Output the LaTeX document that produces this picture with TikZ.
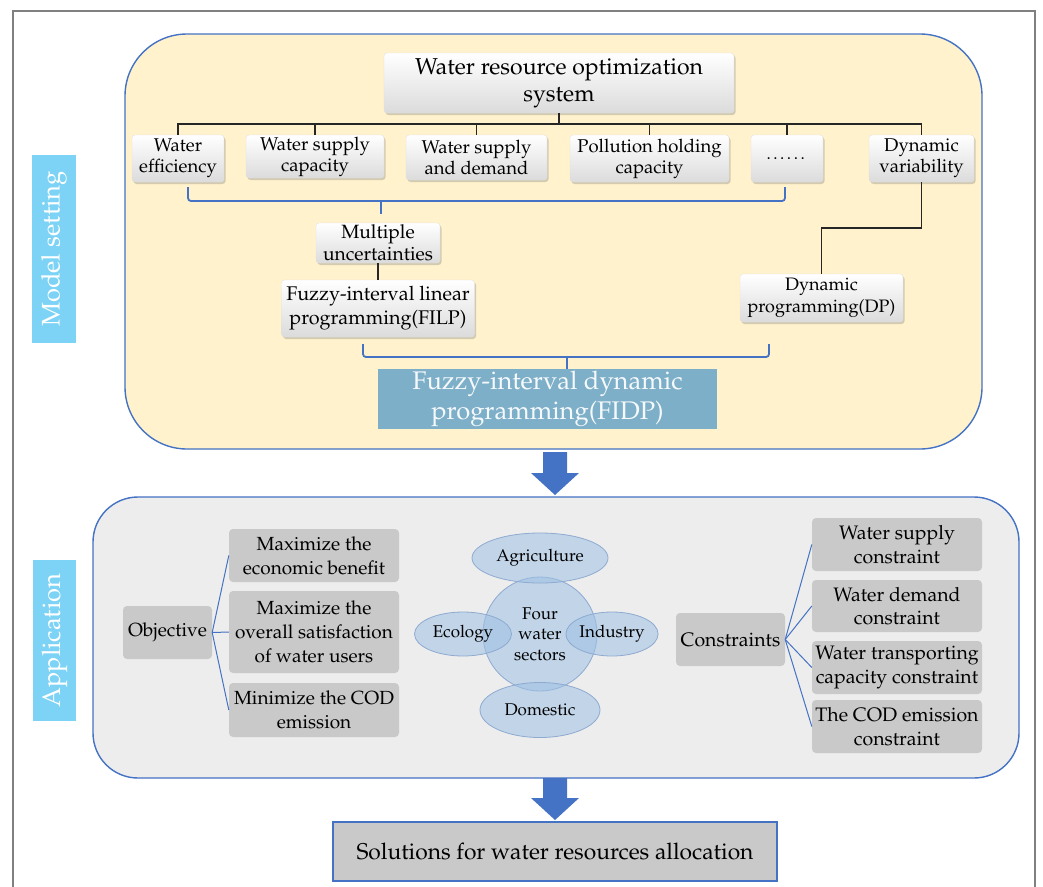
\documentclass[tikz,border=0pt]{standalone}
\usepackage[T1]{fontenc}
\usepackage{mathpazo}
\usetikzlibrary{shapes.geometric,shadows,calc}
\definecolor{cream}{HTML}{FFF2CC}
\definecolor{linkblue}{HTML}{4472C4}
\definecolor{fidpfill}{HTML}{7DAFC8}
\definecolor{sidecyan}{HTML}{7DD3F5}
\definecolor{panelgray}{HTML}{EDEDED}
\definecolor{boxgray}{HTML}{C9C9C9}
\definecolor{ellfill}{HTML}{9DC0E4}
\definecolor{ellborder}{HTML}{8EAAD0}
\newcommand{\myfs}[2]{\fontsize{#1}{#2}\selectfont}
\tikzset{
  wbox/.style={draw=black!12, line width=0.3pt, rounded corners=3pt, top color=white, bottom color=black!14,
    drop shadow={opacity=0.35, shadow xshift=1.5pt, shadow yshift=-2pt}, inner sep=0pt, align=center, text=black},
  gbox/.style={fill=boxgray, rounded corners=4pt, inner sep=0pt, align=center, text=black},
  tree/.style={draw=black!85, line width=1.6pt},
  brk/.style={draw=linkblue, line width=1.8pt, rounded corners=3pt},
  thinlink/.style={draw=linkblue, line width=1pt},
  sector/.style={ellipse, draw=ellborder, line width=0.8pt, fill=ellfill, fill opacity=0.55, text opacity=1, inner sep=0pt, align=center},
  sidelabel/.style={fill=sidecyan, text=white, rotate=90, inner sep=0pt},
  panel/.style={draw=linkblue, line width=1.4pt},
  bigarrow/.style={fill=linkblue},
}
\begin{document}
\begin{tikzpicture}[x=1pt,y=-1pt]
\useasboundingbox (0,0) rectangle (1043,886);
% outer frame
\draw[black!50, line width=1.3pt] (13,890) -- (13,11) -- (1035,11) -- (1035,890);

% side labels
\node[sidelabel, minimum width=188, minimum height=44, font=\myfs{25.5}{28}] (lblmodel) at (54,249) {Model setting};
\node[sidelabel, minimum width=161, minimum height=43, font=\myfs{25.5}{28}] (lblapp) at (54.5,640.5) {Application};

% panels
\node[panel, fill=cream, rounded corners=62pt, minimum width=857, minimum height=415, inner sep=0pt] (toppanel) at (553.5,241.5) {};
\node[panel, fill=panelgray, rounded corners=45pt, minimum width=926, minimum height=281, inner sep=0pt] (botpanel) at (556,637.5) {};

% arrows
\path[bigarrow] (543,452) -- (567,452) -- (567,473) -- (579,473) -- (555,495) -- (531,473) -- (543,473) -- cycle;
\path[bigarrow] (543,778) -- (567,778) -- (567,798) -- (579,798) -- (555,820) -- (531,798) -- (543,798) -- cycle;

% top section
\node[wbox, minimum width=350, minimum height=60, font=\myfs{23}{27}] (title) at (559,83) {Water resource optimization\\ system};
\node[wbox, minimum width=92, minimum height=47, font=\myfs{18.5}{21}] (we) at (178,158.5) {Water\\ efficiency};
\node[wbox, minimum width=138, minimum height=43, font=\myfs{18.5}{21}] (wsc) at (315,156.5) {Water supply\\ capacity};
\node[wbox, minimum width=141, minimum height=45, font=\myfs{18.5}{21}] (wsd) at (476.5,157.5) {Water supply\\ and demand};
\node[wbox, minimum width=159, minimum height=47, font=\myfs{18.5}{21}] (phc) at (649.5,158.5) {Pollution holding\\ capacity};
\node[wbox, minimum width=72, minimum height=47, font=\myfs{17}{21}] (dots) at (787,158.5) {\dots\dots};
\node[wbox, minimum width=105, minimum height=47, font=\myfs{18.5}{21}] (dv) at (921.5,158.5) {Dynamic\\ variability};

\draw[tree] (title.south) -- ++(0,11);
\draw[tree] (we.north) -- ++(0,-11) -| (dv.north);
\draw[tree] (wsc.north) -- ++(0,-11);
\draw[tree] (wsd.north) -- ++(0,-11);
\draw[tree] (phc.north) -- ++(0,-11);
\draw[tree] (dots.north) -- ++(0,-11);

\node[wbox, minimum width=124, minimum height=40, font=\myfs{19.2}{22}] (mu) at (378,243) {Multiple\\ uncertainties};
\node[wbox, minimum width=193, minimum height=57, font=\myfs{19.8}{24}] (filp) at (378,308.5) {Fuzzy-interval linear\\ programming(FILP)};
\node[wbox, minimum width=163, minimum height=48, font=\myfs{18}{21.5}] (dp) at (821.5,298) {Dynamic\\ programming(DP)};
\node[fill=fidpfill, text=white!93!fidpfill, inner sep=0pt, align=center, minimum width=339, minimum height=60, font=\myfs{25.5}{30}] (fidp) at (547.5,399) {Fuzzy-interval dynamic\\ programming(FIDP)};

\draw[tree] (mu.south) -- (filp.north);
\draw[tree] (dv.south) -- ++(0,46) -| (dp.north);

% brackets
\coordinate (b1l) at (188,187);
\coordinate (b1r) at (785,187);
\coordinate (b1m) at (381,201);
\draw[brk] (b1l) -- ++(0,14) -| (b1r);
\draw[brk] (b1m) -- ++(0,13);
\coordinate (b2l) at (363,344);
\coordinate (b2r) at (769,344);
\coordinate (b2m) at (567,357);
\draw[brk] (b2l) -- ++(0,13) -| (b2r);
\draw[brk] (b2m) -- (b2m |- fidp.north);

% application section
\node[gbox, minimum width=89, minimum height=53, font=\myfs{19}{24}] (obj) at (167.5,632.5) {Objective};
\node[gbox, minimum width=170, minimum height=53, font=\myfs{19}{24}] (meb) at (314,555.5) {Maximize the\\ economic benefit};
\node[gbox, minimum width=170, minimum height=82, font=\myfs{19}{24}] (mos) at (314,632) {Maximize the\\ overall satisfaction\\ of water users};
\node[gbox, minimum width=170, minimum height=54, font=\myfs{19}{24}] (mcod) at (314,710) {Minimize the COD\\ emission};
\draw[thinlink] (obj.east) -- (meb.west);
\draw[thinlink] (obj.east) -- (mos.west);
\draw[thinlink] (obj.east) -- (mcod.west);

\node[gbox, minimum width=109, minimum height=53, font=\myfs{19.5}{24}] (cons) at (730.5,639.5) {Constraints};
\node[gbox, minimum width=170, minimum height=53, font=\myfs{19.5}{23.5}] (c1) at (897,544.5) {Water supply\\ constraint};
\node[gbox, minimum width=170, minimum height=52, font=\myfs{19.5}{23.5}] (c2) at (897,606) {Water demand\\ constraint};
\node[gbox, minimum width=170, minimum height=53, font=\myfs{19.5}{23.5}] (c3) at (897,667.5) {Water transporting\\ capacity constraint};
\node[gbox, minimum width=170, minimum height=53, font=\myfs{19.5}{23.5}] (c4) at (897,726.5) {The COD emission\\ constraint};
\draw[thinlink] (cons.east) -- (c1.west);
\draw[thinlink] (cons.east) -- (c2.west);
\draw[thinlink] (cons.east) -- (c3.west);
\draw[thinlink] (cons.east) -- (c4.west);

% sectors
\node[sector, minimum width=114, minimum height=114, font=\myfs{17}{20.5}] (four) at (540,634) {Four\\ water\\ sectors};
\node[sector, minimum width=136, minimum height=50, font=\myfs{17}{20}] (agri) at (540,558) {Agriculture};
\node[sector, minimum width=120, minimum height=55, font=\myfs{17}{20}] (dom) at (540,710) {Domestic};
\node[sector, minimum width=97, minimum height=44, font=\myfs{17}{20}] (eco) at (463,634) {Ecology};
\node[sector, minimum width=92, minimum height=44, font=\myfs{17}{20}] (ind) at (612,634) {Industry};

% solutions
\node[draw=linkblue, line width=1.4pt, fill=boxgray, inner sep=0pt, minimum width=444, minimum height=59, font=\myfs{22.8}{27}] (sol) at (555,851.5) {Solutions for water resources allocation};
\end{tikzpicture}
\end{document}
